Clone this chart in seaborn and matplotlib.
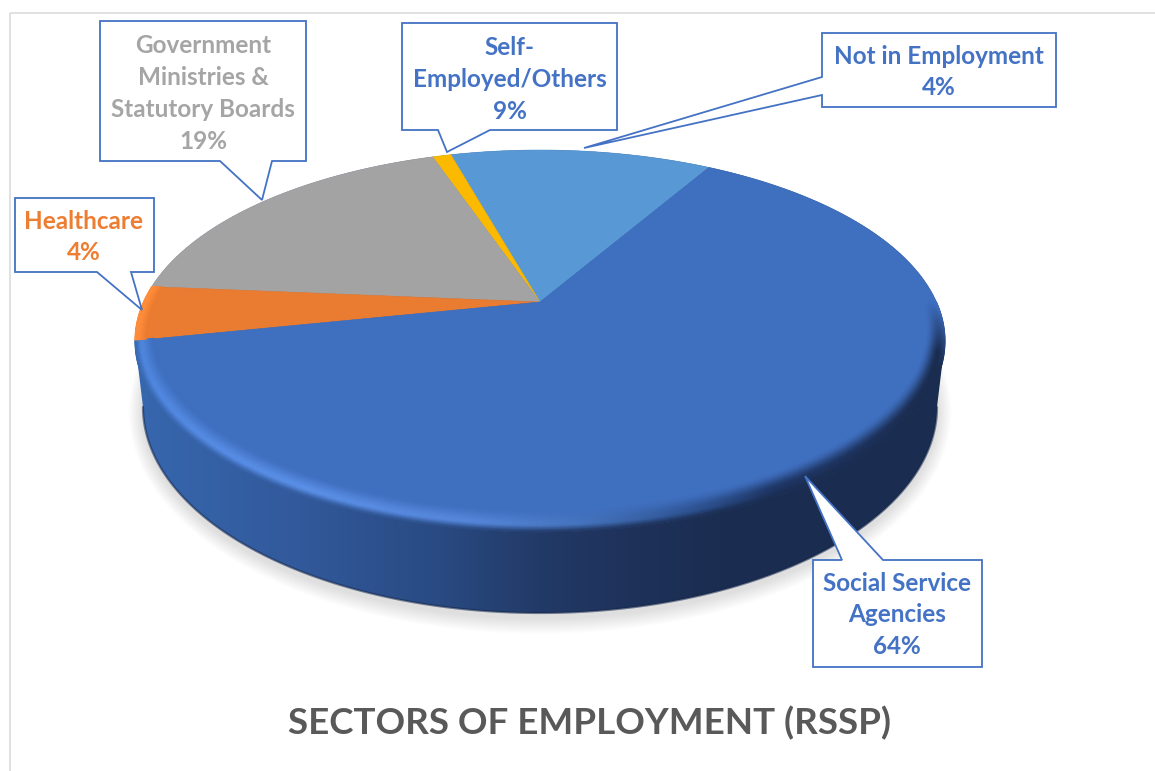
import numpy as np
import matplotlib
matplotlib.use("Agg")
import matplotlib.pyplot as plt
from matplotlib.patches import Polygon
from matplotlib.transforms import Affine2D
from matplotlib.colors import to_rgb
import seaborn as sns

# ---- data ----
categories = ["Not in Employment", "Self-\nEmployed/Others", "Government\nMinistries &\nStatutory Boards", "Healthcare", "Social Service\nAgencies"]
slice_values = [12.7, 0.9, 18.4, 4.6, 63.4]     # sizes of slices as drawn
label_percent = ["4%", "9%", "19%", "4%", "64%"]  # percentages as printed
slice_colors = ["#5898d4", "#fbba00", "#a3a3a3", "#e97c30", "#3f6fbf"]
label_colors = ["#4472c4", "#4472c4", "#a5a5a5", "#ed7d31", "#4472c4"]
title_text = "SECTORS OF EMPLOYMENT (RSSP)"

W, H = 1155, 771
sns.set_theme(style="white")
plt.rcParams["font.family"] = ["Lato", "DejaVu Sans"]
fig = plt.figure(figsize=(W / 100, H / 100), dpi=100, facecolor="white")
ax = fig.add_axes([0, 0, 1, 1])

# perspective of the tilted disc
CX, CY, A, B, K = 540.0, 302.0, 396.5, 183.0, 0.204
def proj(u, v):
    d = 1 + K * np.asarray(v)
    return CX + A * np.asarray(u) / d, CY - B * np.asarray(v) / d

START = 59.9
wedges, _ = ax.pie(slice_values, colors=slice_colors, startangle=START, counterclock=True, radius=1, center=(0, 0), normalize=True)
polys = []
for w in wedges:
    p = w.get_patch_transform().transform_path(w.get_path())
    p = Affine2D().scale(1000).transform_path(p)
    polys.append(np.vstack(p.to_polygons(closed_only=False)) / 1000)
    w.remove()
ax.set_aspect("auto")
ax.set_xlim(0, W)
ax.set_ylim(H, 0)
ax.axis("off")
ax.set_position([0, 0, 1, 1])

# frame lines
ax.plot([10, W], [13, 13], color="#dcdcdc", lw=1.2, zorder=1, solid_capstyle="butt")
ax.plot([10, 10], [13, H], color="#dcdcdc", lw=1.2, zorder=1, solid_capstyle="butt")

# soft shadow under the disc
BX, BY, BRX, BRY = 540.0, 407.0, 397.0, 206.0
t = np.linspace(0, 2 * np.pi, 361)
for d in np.arange(16, 0, -1):
    ax.add_patch(Polygon(np.c_[BX + (BRX + d * .9) * np.cos(t), BY + 5 + (BRY + d) * np.sin(t)],
                         closed=True, fc="black", ec="none", alpha=0.0085, zorder=2))

# side wall with horizontal gradient
grad_x = [135, 300, 440, 540, 640, 720, 945]
grad_c = np.array([to_rgb(c) for c in ["#3767ae", "#32599b", "#294a82", "#223a67", "#1e3159", "#1b2d50", "#1a2c4f"]])
def side_color(x):
    x = np.asarray(x)
    return np.stack([np.interp(x, grad_x, grad_c[:, i]) for i in range(3)], axis=-1)

tl = np.linspace(np.pi, 0, 301)
lower = np.c_[BX + BRX * np.cos(tl), BY + BRY * np.sin(tl)]
top_ang = np.radians(np.linspace(-10, 190, 200))
tu, tv = proj(np.cos(top_ang), np.sin(top_ang))
side_verts = np.vstack([[[135, 341]], lower, [[945, 341]], np.c_[tu, tv]])
xs = np.linspace(135, 945, 400)
img = side_color(xs)[None, :, :]
im = ax.imshow(img, extent=(135, 945, 620, 140), aspect="auto", zorder=3, interpolation="bilinear")
clip = Polygon(side_verts, closed=True, transform=ax.transData, fc="none", ec="none")
ax.add_patch(clip)
im.set_clip_path(clip)
ax.set_xlim(0, W)
ax.set_ylim(H, 0)
ax.plot(lower[:, 0], lower[:, 1], color="#14264a", lw=1.6, alpha=0.55, zorder=3.5)

# top face slices
for verts, col in zip(polys, slice_colors):
    x, y = proj(verts[:, 0], verts[:, 1])
    ax.add_patch(Polygon(np.c_[x, y], closed=True, fc=col, ec=col, lw=0.4, zorder=4))

# bevel of the rim
base_blue = np.array(to_rgb(slice_colors[4]))
edge_ang = [191.5, 200, 240, 262, 275, 288, 300, 330, 345, 352, 360]
edge_hi = np.array([to_rgb(c) for c in ["#4f86de", "#4f86de", "#5b90e8", "#5586da", "#4573bd", "#2f5595", "#1e3564", "#1b2d50", "#1a2c4f", "#2d4d88", "#3f6fbf"]])
th = np.linspace(191.5, 360, 400)
ss = np.linspace(0, 1, 12)
TH, SS = np.meshgrid(th, ss)
rad = np.radians(TH)
wid = 0.036 + 0.045 * np.abs(np.sin(rad))
R = 1 - wid * (1 - SS)
MX, MY = proj(R * np.cos(rad), R * np.sin(rad))
hi = np.stack([np.interp(TH, edge_ang, edge_hi[:, i]) for i in range(3)], axis=-1)
p = np.clip(SS / 0.72, 0, 1)
p = (p * p * (3 - 2 * p))[..., None]
rgb = base_blue * (1 - p) + hi * p
q = (np.clip((SS - 0.72) / 0.28, 0, 1))[..., None]
fade = np.clip((TH - 340) / 18, 0, 1)[..., None]
outer = side_color(MX) * (1 - fade) + base_blue * fade
rgb = rgb * (1 - q) + outer * q
ax.pcolormesh(MX, MY, rgb, shading="gouraud", zorder=5)

# orange rim
th2 = np.linspace(175.1, 191.5, 30)
TH2, SS2 = np.meshgrid(th2, ss)
R2 = 1 - 0.028 * (1 - SS2)
MX2, MY2 = proj(R2 * np.cos(np.radians(TH2)), R2 * np.sin(np.radians(TH2)))
p2 = np.clip(SS2 / 0.7, 0, 1)[..., None]
rgb2 = np.array(to_rgb(slice_colors[3])) * (1 - p2) + np.array(to_rgb("#ff8c3a")) * p2
ax.pcolormesh(MX2, MY2, rgb2, shading="gouraud", zorder=5)

# callouts
callouts = [
    [(822, 33), (1056, 33), (1056, 107), (822, 107), (822, 95), (584, 148), (822, 77)],
    [(402, 23), (617, 23), (617, 130), (490, 130), (447, 152), (438, 130), (402, 130)],
    [(100, 21), (306, 21), (306, 161), (272, 161), (262, 200), (220, 161), (100, 161)],
    [(15, 198), (154, 198), (154, 272), (131, 272), (142, 310), (97, 272), (15, 272)],
    [(813, 560), (842, 560), (805, 476), (883, 560), (982, 560), (982, 667), (813, 667)],
]
label_xy = [(939, 72), (509.5, 79.5), (203, 93.5), (84, 237), (897, 615)]
for verts, name, pct, col, (lx, ly) in zip(callouts, categories, label_percent, label_colors, label_xy):
    ax.add_patch(Polygon(verts, closed=True, fc="white", ec="#4472c4", lw=1.3, zorder=6, joinstyle="miter"))
    ax.text(lx, ly, name + "\n" + pct, color=col, fontsize=17.5, fontweight="bold", ha="center", va="center",
            multialignment="center", linespacing=1.47, zorder=7)

ax.text(589.5, 723, title_text, color="#595959", fontsize=26.5, fontweight="bold", ha="center", va="center", zorder=7)

fig.savefig("out.png", dpi=100, facecolor="white")
